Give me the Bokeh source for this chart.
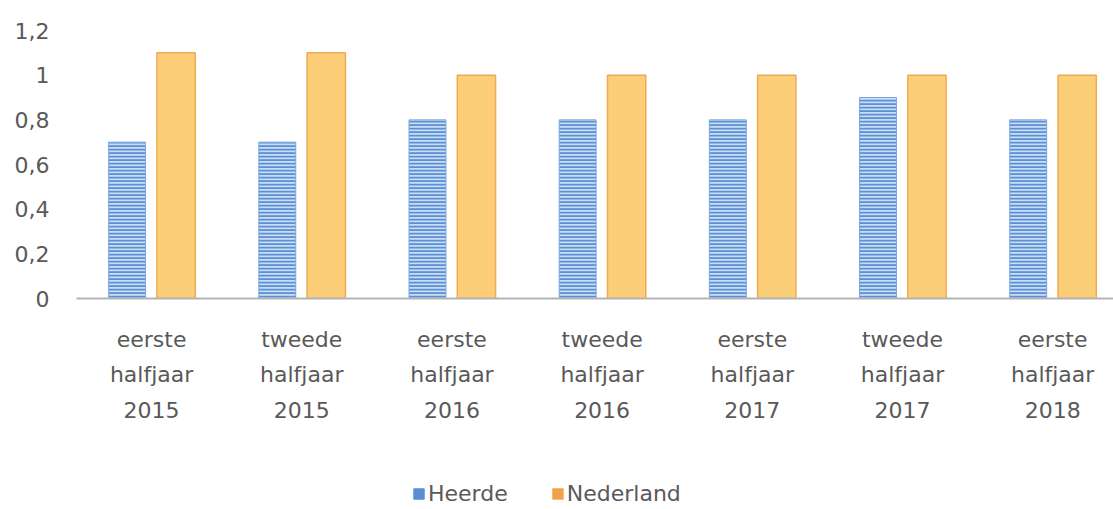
from bokeh.plotting import figure
from bokeh.layouts import column
from bokeh.models import Range1d, FixedTicker, Legend, LegendItem, ColumnDataSource
from bokeh.transform import dodge
from bokeh.embed import file_html
from bokeh.resources import INLINE

periods = ["eerste\nhalfjaar\n2015", "tweede\nhalfjaar\n2015",
           "eerste\nhalfjaar\n2016", "tweede\nhalfjaar\n2016",
           "eerste\nhalfjaar\n2017", "tweede\nhalfjaar\n2017",
           "eerste\nhalfjaar\n2018"]
heerde = [0.7, 0.7, 0.8, 0.8, 0.8, 0.9, 0.8]
nederland = [1.1, 1.1, 1.0, 1.0, 1.0, 1.0, 1.0]
y_ticks = [0, 0.2, 0.4, 0.6, 0.8, 1.0, 1.2]
y_tick_labels = ["0", "0,2", "0,4", "0,6", "0,8", "1", "1,2"]
series_names = ["Heerde", "Nederland"]

FONT = "DejaVu Sans"
TXT = "#595959"
FS = "22px"

pos = [i + 0.5 for i in range(len(periods))]
src = ColumnDataSource(dict(x=pos, h=heerde, n=nederland))

p = figure(width=1113, height=460, x_range=Range1d(0, 6.905), y_range=Range1d(0, 1.2),
           output_backend="svg", toolbar_location=None,
           min_border_left=76, min_border_right=0, min_border_top=30, min_border_bottom=162)
p.outline_line_color = None
p.xgrid.visible = False
p.ygrid.visible = False

r1 = p.vbar(x=dodge("x", -0.163, range=p.x_range), top="h", width=0.246, source=src,
            fill_color="#c9ddf4", line_color="#7aa7dd", line_width=1,
            hatch_pattern="horizontal_line", hatch_color="#5b90d6",
            hatch_scale=3.5, hatch_weight=2)
r2 = p.vbar(x=dodge("x", 0.163, range=p.x_range), top="n", width=0.255, source=src,
            fill_color="#fcce78", line_color="#f0aa52", line_width=1.5)

xa = p.xaxis[0]
xa.ticker = FixedTicker(ticks=pos)
xa.major_label_overrides = {x: lab for x, lab in zip(pos, periods)}
xa.axis_line_color = "#b4b4b4"
xa.axis_line_width = 2
xa.major_tick_in = 0
xa.major_tick_out = 0
xa.major_label_standoff = 28
xa.major_label_text_font = FONT
xa.major_label_text_font_size = FS
xa.major_label_text_color = TXT
xa.major_label_text_line_height = 1.42

ya = p.yaxis[0]
ya.ticker = FixedTicker(ticks=y_ticks)
ya.major_label_overrides = {t: lab for t, lab in zip(y_ticks, y_tick_labels)}
ya.axis_line_color = None
ya.major_tick_in = 0
ya.major_tick_out = 0
ya.major_label_standoff = 27
ya.major_label_text_font = FONT
ya.major_label_text_font_size = FS
ya.major_label_text_color = TXT

# legend strip below the chart (swatch renderers hold no visible marks)
p2 = figure(width=1113, height=49, x_range=Range1d(0, 1), y_range=Range1d(0, 1),
            output_backend="svg", toolbar_location=None,
            x_axis_location=None, y_axis_location=None,
            min_border_left=0, min_border_right=0, min_border_top=0, min_border_bottom=0)
p2.outline_line_color = None
p2.xgrid.visible = False
p2.ygrid.visible = False
swatch = ColumnDataSource(dict(x=[-1.0], top=[0.0]))
l1 = p2.vbar(x="x", top="top", width=0.1, source=swatch,
             fill_color="#5b8fd3", line_color="#5b8fd3")
l2 = p2.vbar(x="x", top="top", width=0.1, source=swatch,
             fill_color="#f2a24a", line_color="#f2a24a")

legend = Legend(items=[LegendItem(label=series_names[0], renderers=[l1]),
                       LegendItem(label=series_names[1], renderers=[l2])],
                location=(336, 3), orientation="horizontal",
                label_text_font=FONT, label_text_font_size=FS, label_text_color=TXT,
                glyph_width=13, glyph_height=13, label_standoff=3, spacing=43,
                padding=0, margin=0, border_line_color=None, background_fill_alpha=0)
p2.add_layout(legend, "center")

open("out.html", "w").write(file_html(column(p, p2, spacing=0), INLINE))
